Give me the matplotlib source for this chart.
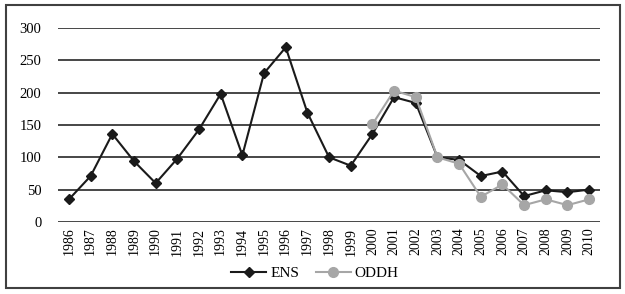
import matplotlib

matplotlib.use("Agg")
import matplotlib.pyplot as plt
from matplotlib.patches import Rectangle

years = [str(y) for y in range(1986, 2011)]
ens = [35, 71, 136, 94, 60, 98, 143, 198, 103, 230, 270, 169,
       100, 87, 136, 193, 184, 100, 96, 71, 78, 40, 49, 46, 50]
oddh_years = [str(y) for y in range(2000, 2011)]
oddh = [151, 203, 193, 100, 90, 39, 58, 26, 35, 26, 35]

plt.rcParams["font.family"] = ["Liberation Serif", "DejaVu Serif"]

fig = plt.figure(figsize=(6.25, 2.94), dpi=100)
ax = fig.add_axes([0.093, 0.245, 0.867, 0.66])

x = list(range(len(years)))
xo = [years.index(y) for y in oddh_years]

ax.plot(x, ens, color="#1a1a1a", lw=1.5, marker="D", ms=5,
        label="ENS", zorder=3)
ax.plot(xo, oddh, color="#a6a6a6", lw=1.5, marker="o", ms=7,
        label="ODDH", zorder=4)

ax.set_ylim(0, 300)
ax.set_xlim(-0.5, len(years) - 0.5)
ax.set_yticks(range(0, 301, 50))
ax.set_xticks(x)
ax.set_xticklabels(years, rotation=90, fontsize=10)
ax.tick_params(axis="y", length=0, pad=12, labelsize=10.5)
ax.tick_params(axis="x", length=0, pad=4)
ax.grid(axis="y", color="#383838", lw=1.3)
ax.set_axisbelow(True)
for s in ax.spines.values():
    s.set_visible(False)

ax.legend(loc="upper center", bbox_to_anchor=(0.474, -0.16), ncol=2,
          frameon=False, fontsize=11, handlelength=2.3, columnspacing=1.1,
          handletextpad=0.25)

# outer frame around the whole chart
fig.patches.append(Rectangle((6 / 625, 6 / 294), 614 / 625, 283 / 294,
                             transform=fig.transFigure, fill=False,
                             edgecolor="#404040", lw=1.5))

fig.savefig("out.png", dpi=100)
